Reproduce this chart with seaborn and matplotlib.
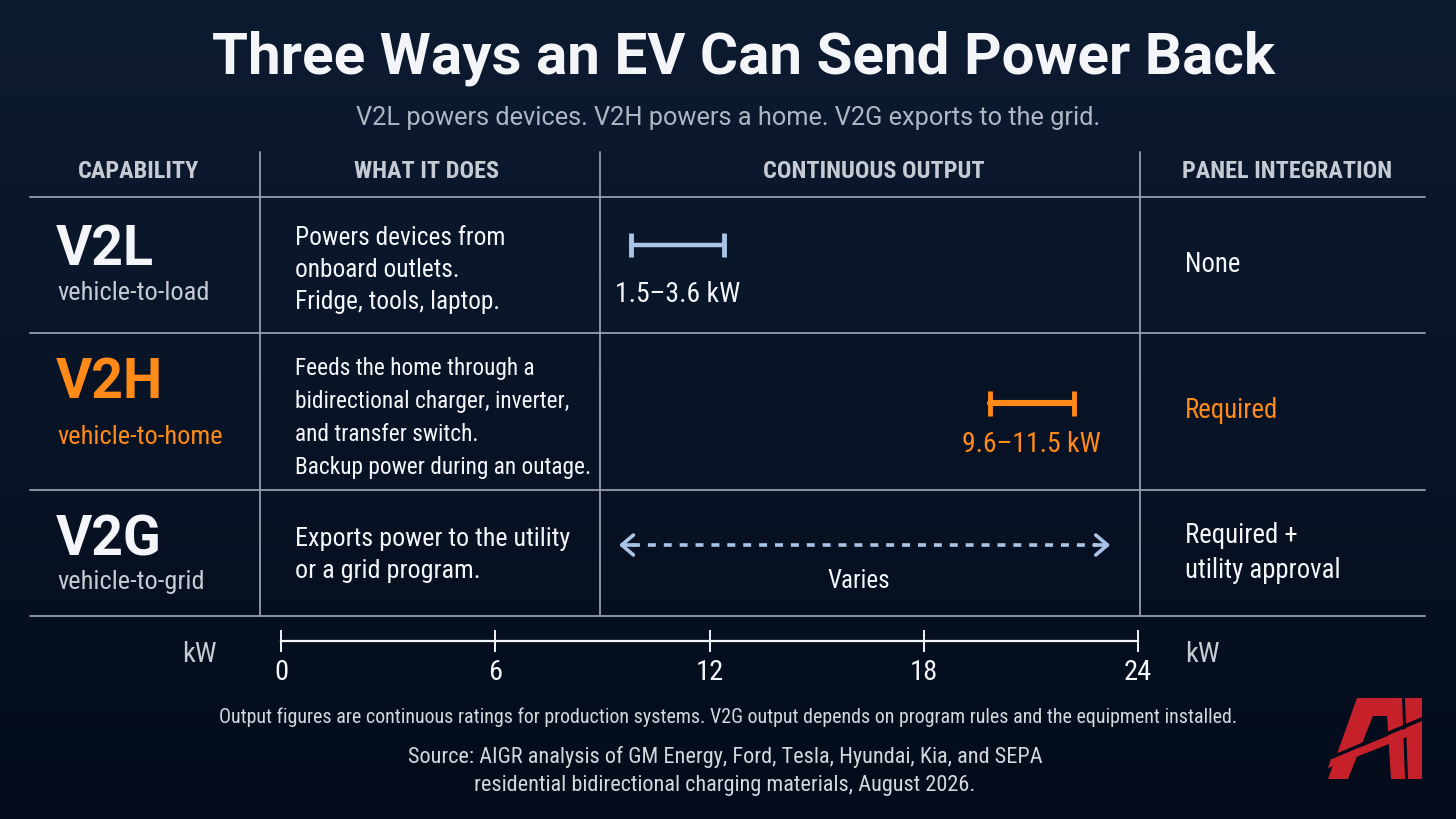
import numpy as np
import pandas as pd
import matplotlib
matplotlib.use("Agg")
import matplotlib.pyplot as plt
from matplotlib.colors import LinearSegmentedColormap
from matplotlib.patches import Polygon
import seaborn as sns

# ---- chart content ----
title = "Three Ways an EV Can Send Power Back"
subtitle = "V2L powers devices. V2H powers a home. V2G exports to the grid."
headers = ["CAPABILITY", "WHAT IT DOES", "CONTINUOUS OUTPUT", "PANEL INTEGRATION"]

capabilities = ["V2L", "V2H", "V2G"]
long_names = ["vehicle-to-load", "vehicle-to-home", "vehicle-to-grid"]
descriptions = [
    "Powers devices from\nonboard outlets.\nFridge, tools, laptop.",
    "Feeds the home through a\nbidirectional charger, inverter,\nand transfer switch.\nBackup power during an outage.",
    "Exports power to the utility\nor a grid program.",
]
low_kw = [1.5, 9.6, np.nan]
high_kw = [3.6, 11.5, np.nan]
output_labels = ["1.5\u20133.6 kW", "9.6\u201311.5 kW", "Varies"]
panel_integration = ["None", "Required", "Required +\nutility approval"]
scale_ticks = [0, 6, 12, 18, 24]

footnote = ("Output figures are continuous ratings for production systems. "
            "V2G output depends on program rules and the equipment installed.")
source = ("Source: AIGR analysis of GM Energy, Ford, Tesla, Hyundai, Kia, and SEPA\n"
          "residential bidirectional charging materials, August 2026.")

# ---- style ----
BG_TOP = "#0d1b31"
BG_BOT = "#040c1b"
LINE = "#959eab"
WHITE = "#f3f5f8"
GREY = "#c6cbd3"
ORANGE = "#ff8a17"
BLUE = "#a9c4e6"
RED = "#c6202b"

sns.set_theme(style="dark")
FONT = ["Roboto Condensed", "Roboto", "DejaVu Sans"]
plt.rcParams["font.family"] = FONT
ROBOTO = ["Roboto", "DejaVu Sans"]

W, H = 1456, 819
fig = plt.figure(figsize=(W / 100, H / 100), dpi=100)

# background in pixel coordinates
bg = fig.add_axes([0, 0, 1, 1])
bg.set_xlim(0, W)
bg.set_ylim(H, 0)
bg.axis("off")
grad = np.linspace(0, 1, 256).reshape(-1, 1)
cmap = LinearSegmentedColormap.from_list("bg", [BG_TOP, BG_BOT])
bg.imshow(grad, extent=[0, W, H, 0], aspect="auto", cmap=cmap, zorder=0)

# title block
bg.text(744, 58, title, ha="center", va="center", fontsize=42,
        fontweight="bold", family=ROBOTO, color=WHITE)
bg.text(728, 118, subtitle, ha="center", va="center", fontsize=18.3,
        family=ROBOTO, color="#aeb6c3")

# table grid
col_x = [30, 260, 600, 1140, 1425]
row_y = [197, 333, 490, 616]
for x in col_x[1:-1]:
    bg.plot([x, x], [152, row_y[-1]], color=LINE, lw=1.3, zorder=2)
for y in row_y:
    bg.plot([col_x[0], col_x[-1]], [y, y], color=LINE, lw=1.3, zorder=2)

header_x = [139, 426, 874, 1287]
for hx, h in zip(header_x, headers):
    bg.text(hx, 172, h, ha="center", va="center",
            fontsize=17.5, fontweight="bold", color=GREY)

# row text
name_y = [250, 383, 540]
sub_y = [293, 437, 582]
desc_y = [270, 418, 555]
desc_size = [18.3, 16.8, 18.8]
desc_spacing = [1.42, 1.55, 1.4]
panel_y = [264, 411, 553]
name_colors = [WHITE, ORANGE, WHITE]
sub_colors = [GREY, ORANGE, GREY]
panel_colors = [WHITE, ORANGE, WHITE]
for i, cap in enumerate(capabilities):
    bg.text(56, name_y[i], cap, ha="left", va="center", fontsize=40,
            fontweight="bold", family=ROBOTO, color=name_colors[i])
    bg.text(57, sub_y[i], long_names[i], ha="left", va="center",
            fontsize=19, color=sub_colors[i])
    bg.text(295, desc_y[i], descriptions[i], ha="left", va="center",
            fontsize=desc_size[i], color=WHITE, linespacing=desc_spacing[i])
    bg.text(1185, panel_y[i], panel_integration[i], ha="left", va="center",
            fontsize=19.3, color=panel_colors[i], linespacing=1.4)

# continuous output ranges (column axes, y in pixel rows)
ax = fig.add_axes([600 / W, 1 - row_y[-1] / H, 540 / W, (row_y[-1] - row_y[0]) / H])
ax.set_xlim(0.8, 13)
ax.set_ylim(row_y[-1], row_y[0])
ax.axis("off")
ax.patch.set_alpha(0)

bar_y = [245, 403, 545]
label_y = [294, 444, 581]
bar_colors = [BLUE, ORANGE, BLUE]
bar_lw = [3.2, 4.4]
cap_size = [17, 18]
for i in range(2):
    df = pd.DataFrame({"kW": [low_kw[i], high_kw[i]], "y": [bar_y[i]] * 2})
    sns.lineplot(data=df, x="kW", y="y", ax=ax, color=bar_colors[i],
                 lw=bar_lw[i], marker="|", markersize=cap_size[i],
                 markeredgewidth=3.5, markeredgecolor=bar_colors[i],
                 estimator=None, sort=False)
    mid = (low_kw[i] + high_kw[i]) / 2
    ax.text(mid, label_y[i], output_labels[i], ha="center", va="center",
            fontsize=20, color=WHITE if i == 0 else ORANGE)

# V2G: no fixed figure, dashed double arrow across the column
yv = bar_y[2]
ax.plot([0.06, 0.92], [yv, yv], transform=ax.get_yaxis_transform(),
        color=BLUE, lw=2.6, ls=(0, (2.2, 2.2)))
for x0, x1 in [(0.07, 0.03), (0.91, 0.95)]:
    ax.annotate("", xy=(x1, yv), xytext=(x0, yv),
                xycoords=ax.get_yaxis_transform(),
                textcoords=ax.get_yaxis_transform(),
                arrowprops=dict(arrowstyle="->,head_length=0.7,head_width=0.6",
                                color=BLUE, lw=2.6))
ax.text(0.48, label_y[2], output_labels[2], transform=ax.get_yaxis_transform(),
        ha="center", va="center", fontsize=18, color=WHITE)

# kW scale
axk = fig.add_axes([281 / W, 1 - 641 / H, 857 / W, 0.0005])
axk.patch.set_alpha(0)
axk.set_xlim(scale_ticks[0], scale_ticks[-1])
axk.set_yticks([])
for s in ["top", "left", "right"]:
    axk.spines[s].set_visible(False)
axk.spines["bottom"].set_color(WHITE)
axk.spines["bottom"].set_linewidth(1.6)
axk.set_xticks(scale_ticks)
axk.set_xticklabels([str(t) for t in scale_ticks])
axk.tick_params(axis="x", direction="inout", length=16, width=1.4,
                colors=WHITE, labelsize=20.5, pad=5, bottom=True)
axk.grid(False)
bg.text(199, 655, "kW", ha="center", va="center", fontsize=20.5, color=GREY)
bg.text(1202, 655, "kW", ha="center", va="center", fontsize=20.5, color=GREY)

# notes
bg.text(728, 717, footnote, ha="center", va="center", fontsize=14.4,
        color="#d3d7de")
bg.text(725, 771, source, ha="center", va="center", fontsize=16,
        color="#d3d7de", linespacing=1.45)

# logo
logo_red = [
    [(1328, 779), (1348, 779), (1380, 698), (1357, 698)],
    [(1375, 698), (1392, 698), (1392, 716), (1371, 716)],
    [(1386, 698), (1402, 698), (1405, 779), (1391, 779)],
    [(1405, 698), (1422, 698), (1422, 779), (1408, 779)],
    [(1331, 759), (1422, 722), (1422, 731), (1328, 768)],
]
for pts in logo_red:
    bg.add_patch(Polygon(pts, closed=True, color=RED, zorder=3, lw=0))
bg.add_patch(Polygon([(1333, 755), (1422, 717), (1422, 721), (1332, 759)],
                     closed=True, color=BG_BOT, zorder=4, lw=0))

fig.savefig("out.png", dpi=100, facecolor=BG_BOT)
